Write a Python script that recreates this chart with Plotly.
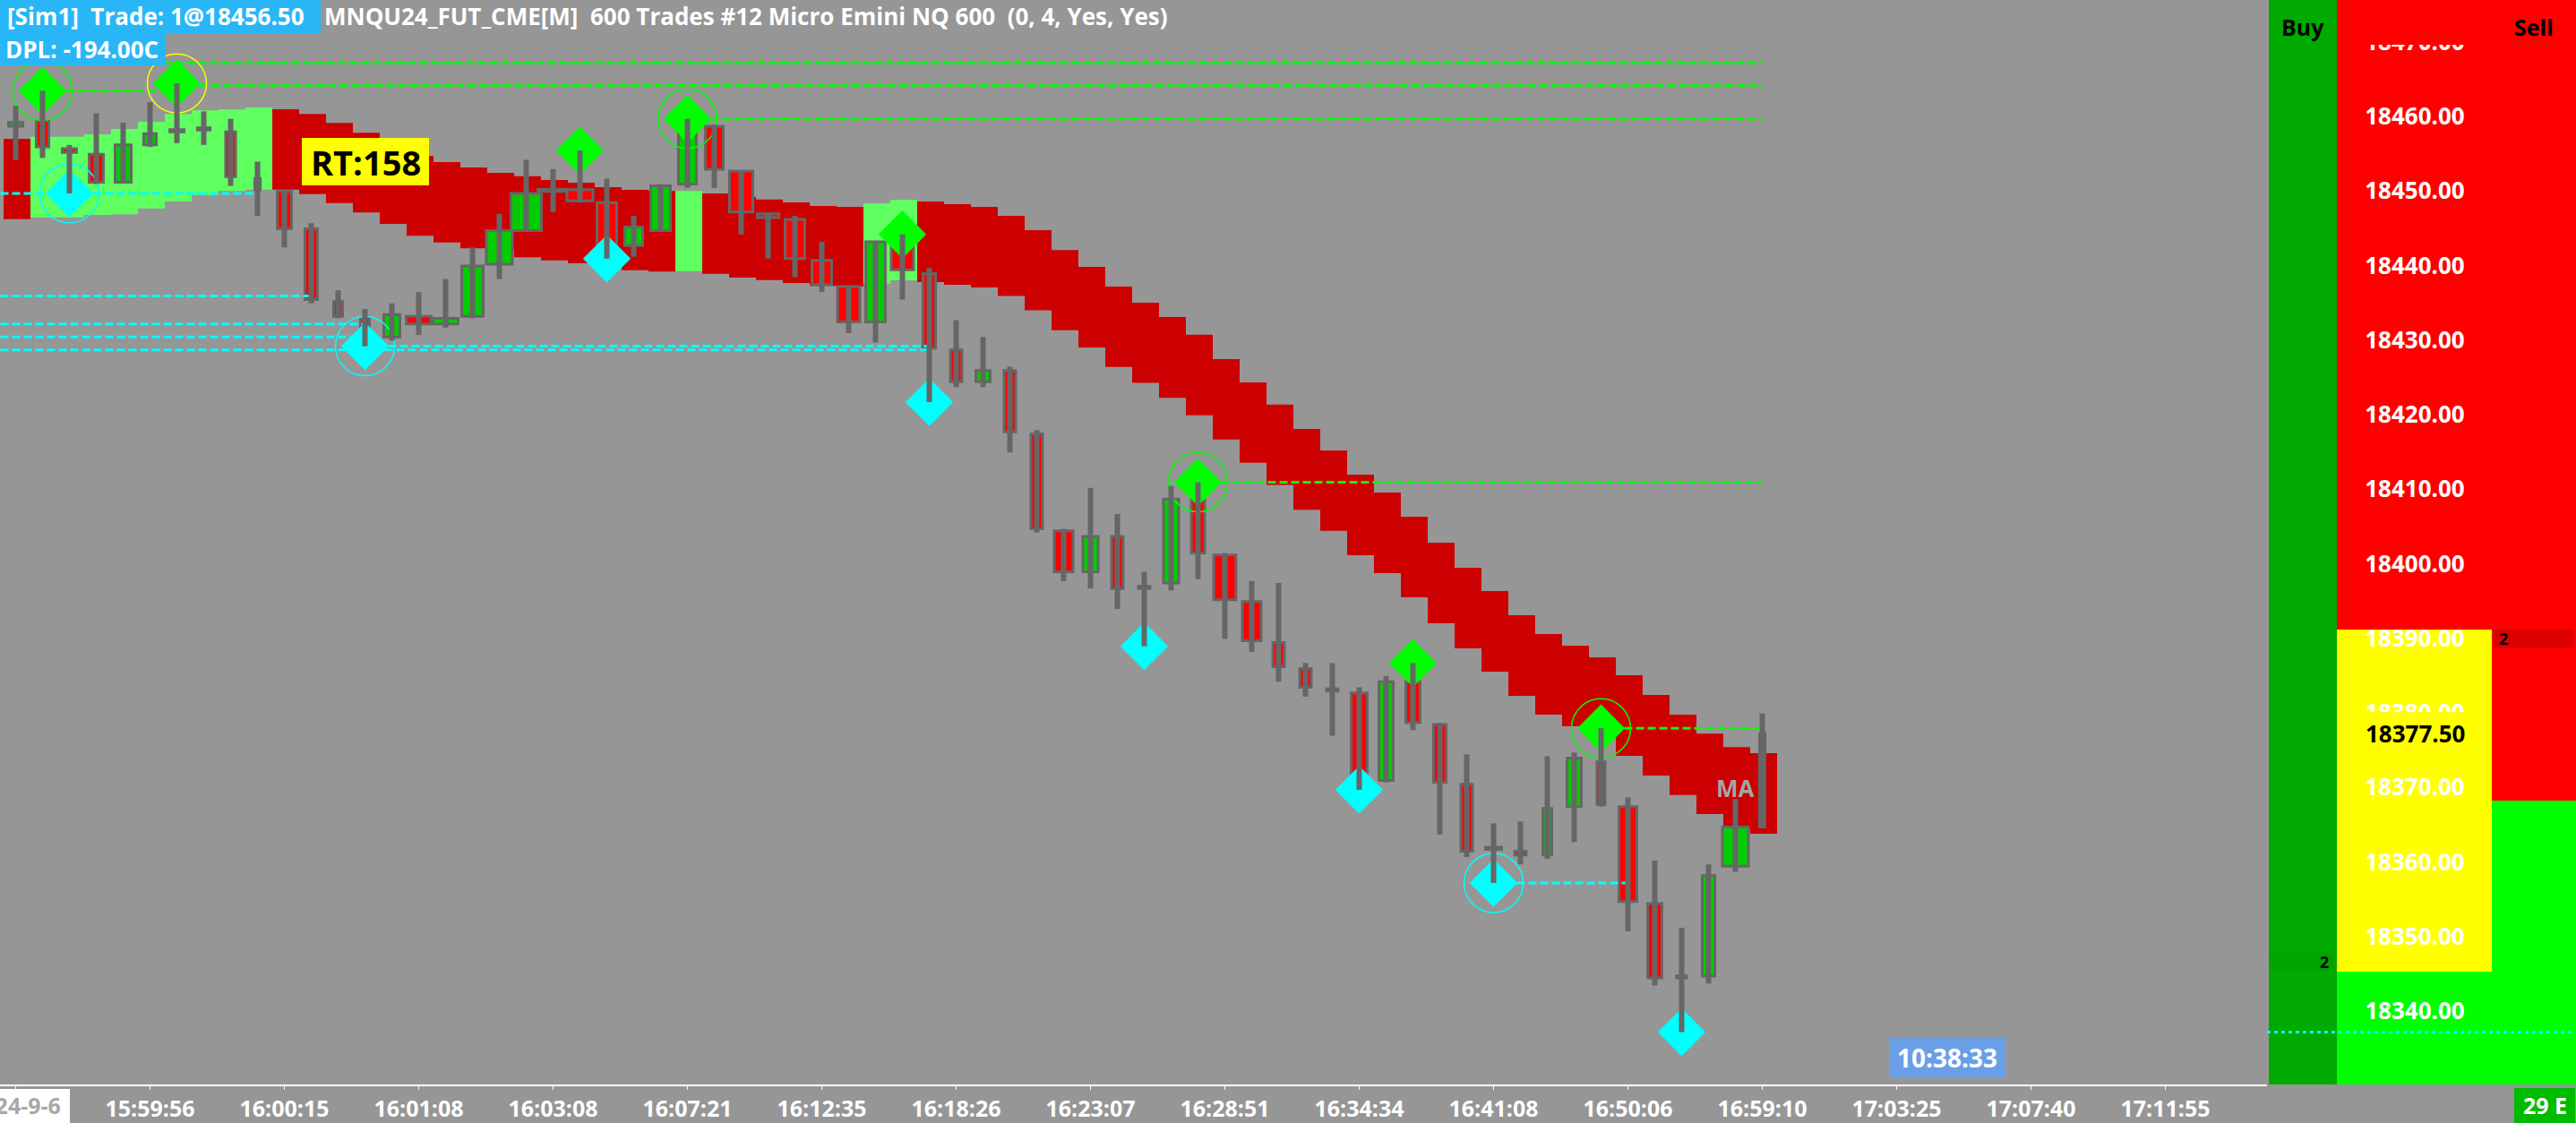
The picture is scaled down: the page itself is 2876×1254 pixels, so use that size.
import plotly.graph_objects as go

# ---------------- data ----------------
bar_index = list(range(66))
opens = [18459.0, 18459.75, 18456.0, 18455.25, 18451.5, 18456.5, 18458.25, 18458.5, 18458.25, 18452.0,
         18450.25, 18445.25, 18435.5, 18433.25, 18430.75, 18433.5, 18432.5, 18433.5, 18440.5, 18445.0,
         18450.25, 18450.5, 18448.75, 18443.0, 18445.0, 18451.25, 18459.0, 18453.0, 18447.25, 18446.5,
         18441.0, 18437.5, 18432.75, 18443.5, 18439.25, 18429.0, 18424.75, 18426.25, 18417.75, 18404.75,
         18399.25, 18404.0, 18397.0, 18397.75, 18409.0, 18401.5, 18395.25, 18389.75, 18386.25, 18383.25,
         18383.0, 18371.25, 18384.5, 18378.75, 18370.75, 18362.0, 18361.75, 18361.25, 18367.75, 18373.75,
         18367.75, 18354.75, 18344.75, 18345.0, 18359.75, 18365.0]
highs = [18461.75, 18463.75, 18456.5, 18460.75, 18459.5, 18462.25, 18464.75, 18461.0, 18460.0, 18454.25,
         18450.25, 18446.0, 18437.0, 18434.5, 18435.25, 18436.75, 18438.5, 18442.75, 18447.25, 18454.5,
         18453.25, 18455.75, 18452.0, 18447.0, 18451.25, 18460.0, 18459.25, 18453.0, 18447.25, 18447.0,
         18443.5, 18437.5, 18443.5, 18444.5, 18440.0, 18433.0, 18430.75, 18426.75, 18418.25, 18405.0,
         18410.5, 18407.0, 18399.25, 18410.75, 18411.25, 18401.75, 18398.0, 18397.75, 18387.0, 18387.0,
         18383.75, 18385.25, 18387.0, 18379.0, 18374.75, 18365.5, 18365.75, 18374.5, 18375.0, 18378.25,
         18369.0, 18360.5, 18351.5, 18360.0, 18368.75, 18380.25]
lows = [18454.5, 18454.75, 18450.0, 18451.25, 18451.5, 18456.25, 18456.75, 18456.5, 18451.0, 18447.0,
        18442.75, 18435.25, 18433.25, 18429.5, 18430.25, 18431.0, 18432.0, 18433.25, 18438.5, 18445.0,
        18447.5, 18448.75, 18441.25, 18441.5, 18445.0, 18450.75, 18450.75, 18444.5, 18441.25, 18438.75,
        18436.75, 18431.25, 18430.0, 18435.75, 18422.0, 18424.0, 18424.0, 18415.25, 18404.5, 18398.0,
        18397.0, 18394.25, 18389.25, 18396.75, 18398.25, 18390.25, 18388.5, 18384.5, 18382.5, 18377.25,
        18370.0, 18371.0, 18378.0, 18364.0, 18361.0, 18357.5, 18360.0, 18360.75, 18363.0, 18367.75,
        18351.0, 18343.75, 18337.5, 18344.0, 18359.0, 18365.0]
closes = [18459.5, 18456.25, 18455.5, 18451.5, 18456.5, 18458.0, 18458.5, 18458.5, 18452.25, 18450.5,
          18445.25, 18435.75, 18433.5, 18430.75, 18433.75, 18432.5, 18433.25, 18440.25, 18445.0, 18450.0,
          18450.5, 18449.0, 18443.0, 18445.5, 18451.0, 18459.0, 18453.25, 18447.5, 18446.75, 18441.25,
          18437.75, 18432.75, 18443.5, 18439.75, 18429.25, 18424.75, 18426.25, 18418.0, 18405.0, 18399.25,
          18404.0, 18397.0, 18397.25, 18409.0, 18401.75, 18395.5, 18390.0, 18386.5, 18383.75, 18383.25,
          18371.25, 18384.5, 18379.0, 18371.0, 18361.75, 18362.0, 18361.25, 18367.5, 18374.25, 18368.0,
          18355.0, 18344.75, 18344.75, 18358.5, 18365.0, 18377.5]
# relative body width of each candle (fraction of one bar slot)
body_frac = [.63, .57, .63, .63, .70, .57, .63, .57, .47, .30,
             .63, .57, .43, .43, .70, 1.03, 1.03, .90, 1.07, 1.23,
             1.23, 1.07, .83, .77, .83, .77, .77, .97, .90, .83,
             .83, .93, .83, .93, .57, .53, .63, .53, .53, .80,
             .67, .53, .53, .67, .60, .93, .80, .53, .53, .53,
             .70, .63, .63, .57, .53, .70, .53, .43, .63, .40,
             .77, .63, .47, .57, 1.07, .30]
ribbon_top = [18457.32, 18457.60, 18457.60, 18457.92, 18458.64, 18459.60, 18460.65, 18461.13, 18461.25, 18461.53,
              18461.29, 18460.65, 18459.45, 18458.13, 18456.60, 18455.04, 18454.20, 18453.48, 18452.76, 18452.31,
              18451.80, 18451.44, 18450.84, 18450.47, 18450.32, 18450.32, 18449.99, 18449.51, 18449.19, 18448.79,
              18448.31, 18448.19, 18448.67, 18449.12, 18448.90, 18448.54, 18448.19, 18446.99, 18445.07, 18442.40,
              18440.14, 18437.51, 18435.34, 18433.43, 18431.03, 18427.78, 18424.64, 18421.66, 18418.40, 18415.52,
              18412.28, 18409.87, 18406.63, 18403.15, 18399.78, 18396.66, 18393.42, 18390.89, 18389.33, 18387.77,
              18385.37, 18382.73, 18380.08, 18377.52, 18375.72, 18374.92]
ribbon_bot = [18446.55, 18446.79, 18446.79, 18447.11, 18447.20, 18447.99, 18448.91, 18449.79, 18450.32, 18450.51,
              18450.51, 18449.91, 18448.71, 18447.44, 18445.91, 18444.31, 18443.42, 18442.63, 18442.47, 18441.43,
              18441.02, 18440.62, 18440.26, 18439.70, 18439.51, 18439.58, 18439.22, 18438.70, 18438.38, 18437.98,
              18437.59, 18437.50, 18437.90, 18438.34, 18438.10, 18437.74, 18437.38, 18436.23, 18434.32, 18431.65,
              18429.33, 18426.71, 18424.59, 18422.58, 18420.23, 18416.99, 18413.87, 18410.89, 18407.57, 18404.74,
              18401.47, 18399.06, 18395.82, 18392.33, 18388.97, 18385.85, 18382.61, 18380.08, 18378.52, 18376.96,
              18374.56, 18371.92, 18369.31, 18366.75, 18364.71, 18364.11]
ribbon_bull = [0, 1, 1, 1, 1, 1, 1, 1, 1, 1,
               0, 0, 0, 0, 0, 0, 0, 0, 0, 0,
               0, 0, 0, 0, 0, 1, 0, 0, 0, 0,
               0, 0, 1, 1, 0, 0, 0, 0, 0, 0,
               0, 0, 0, 0, 0, 0, 0, 0, 0, 0,
               0, 0, 0, 0, 0, 0, 0, 0, 0, 0,
               0, 0, 0, 0, 0, 0]
sell_signal_bars = [1, 6, 21, 25, 33, 44, 52, 59]
buy_signal_bars = [2, 13, 22, 34, 42, 50, 55, 62]
sell_circle_bars = [1, 25, 44, 59]
entry_circle_bars = [6]
buy_circle_bars = [2, 13, 55]
green_level_price = [18467.5, 18464.5, 18463.75, 18460.0, 18411.25, 18378.25]
green_level_from = [-1, 6, 1, 25, 44, 59]
green_level_to = [65, 65, 6, 65, 65, 65]
cyan_level_price = [18450.0, 18436.25, 18432.5, 18430.75, 18429.0, 18429.5, 18357.5]
cyan_level_from = [-1, -1, -1, -1, -1, 13, 55]
cyan_level_to = [9, 11, 13, 13, 34, 34, 60]
tick_bars = list(range(0, 81, 5))
tick_labels = ["2024-9-6", "15:59:56", "16:00:15", "16:01:08", "16:03:08", "16:07:21", "16:12:35",
               "16:18:26", "16:23:07", "16:28:51", "16:34:34", "16:41:08", "16:50:06", "16:59:10",
               "17:03:25", "17:07:40", "17:11:55"]
ladder_prices = [18470, 18460, 18450, 18440, 18430, 18420, 18410, 18400, 18390, 18380, 18370, 18360, 18350, 18340]
ladder_ask_floor = 18391.5      # red above
ladder_bid_ceiling = 18345.6    # lime below
ladder_sell_split = 18368.55
sell_order_price, sell_order_qty = 18390.3, 2
buy_order_price, buy_order_qty = 18346.9, 2
last_price = 18377.50
stop_level = 18337.5
y_range = [18330.47, 18475.94]
x_range = [-0.583, 83.783]

# ---------------- styling ----------------
W, H = 2876, 1254
PLOT_H = 1211
SPLIT = 2531
BG = "#969696"
FONT = "Open Sans"
RED_RIB, GRN_RIB = "#CC0000", "#5FFF5F"
UP, DN, DOJI, WICK = "#00CC00", "#FF0000", "#666666", "#666666"


def PX(px):
    return px / W


def PY(py):
    return 1 - py / PLOT_H


fig = go.Figure()


def level_trace(prices, froms, tos, color):
    xs, ys = [], []
    for p, a, b in zip(prices, froms, tos):
        xs += [a, b, None]
        ys += [p, p, None]
    return go.Scatter(x=xs, y=ys, mode="lines", hoverinfo="skip",
                      line=dict(color=color, width=3, dash="9px,4px"))


fig.add_trace(level_trace(green_level_price, green_level_from, green_level_to, "#00FF00"))
fig.add_trace(level_trace(cyan_level_price, cyan_level_from, cyan_level_to, "#00FFFF"))

# circles around signals
fig.add_trace(go.Scatter(x=sell_circle_bars, y=[highs[i] for i in sell_circle_bars], mode="markers",
                         hoverinfo="skip",
                         marker=dict(symbol="circle-open", size=66, color="#00FF00", line=dict(width=1.5))))
fig.add_trace(go.Scatter(x=entry_circle_bars, y=[highs[i] for i in entry_circle_bars], mode="markers",
                         hoverinfo="skip",
                         marker=dict(symbol="circle-open", size=66, color="#FFFF00", line=dict(width=1.5))))
fig.add_trace(go.Scatter(x=buy_circle_bars, y=[lows[i] for i in buy_circle_bars], mode="markers",
                         hoverinfo="skip",
                         marker=dict(symbol="circle-open", size=66, color="#00FFFF", line=dict(width=1.5))))

# ribbon
fig.add_trace(go.Bar(x=bar_index, base=ribbon_bot, y=[t - b for t, b in zip(ribbon_top, ribbon_bot)],
                     width=1.0, offset=-0.45, hoverinfo="skip",
                     marker=dict(color=[GRN_RIB if g else RED_RIB for g in ribbon_bull], line=dict(width=0))))

# diamonds
fig.add_trace(go.Scatter(x=sell_signal_bars, y=[highs[i] for i in sell_signal_bars], mode="markers",
                         hoverinfo="skip", marker=dict(symbol="diamond", size=41, color="#00FF00",
                                                       line=dict(width=0))))
fig.add_trace(go.Scatter(x=buy_signal_bars, y=[lows[i] for i in buy_signal_bars], mode="markers",
                         hoverinfo="skip", marker=dict(symbol="diamond", size=41, color="#00FFFF",
                                                       line=dict(width=0))))

# wicks
wx, wy = [], []
for i, h, l in zip(bar_index, highs, lows):
    wx += [i, i, None]
    wy += [l, h, None]
fig.add_trace(go.Scatter(x=wx, y=wy, mode="lines", hoverinfo="skip", line=dict(color=WICK, width=6)))

# bodies
b_base = [min(o, c) for o, c in zip(opens, closes)]
b_h = [max(abs(c - o), 0.3) for o, c in zip(opens, closes)]
b_col = [UP if c > o else (DN if c < o else DOJI) for o, c in zip(opens, closes)]
b_w = [max(f - 0.1, 0.05) for f in body_frac]
fig.add_trace(go.Bar(x=bar_index, base=b_base, y=b_h, width=b_w, hoverinfo="skip",
                     marker=dict(color=b_col, line=dict(color=WICK, width=3))))

# ladder price labels (drawn as text trace on ladder axis)
fig.add_trace(go.Scatter(x=[165] * len(ladder_prices), y=ladder_prices, xaxis="x2", yaxis="y",
                         mode="text", text=[f"{p:.2f}" for p in ladder_prices], hoverinfo="skip",
                         textfont=dict(family=FONT, size=26, color="white", weight="bold")))

shapes = []
# ladder backgrounds
shapes.append(dict(type="rect", xref="x2", yref="paper", x0=2, x1=78, y0=0, y1=1,
                   fillcolor="#00AA00", line=dict(width=0), layer="below"))
shapes.append(dict(type="rect", xref="x2", yref="y", x0=78, x1=251, y0=ladder_ask_floor, y1=18600,
                   fillcolor="#FF0000", line=dict(width=0), layer="below"))
shapes.append(dict(type="rect", xref="x2", yref="y", x0=78, x1=251, y0=ladder_bid_ceiling, y1=ladder_ask_floor,
                   fillcolor="#FFFF00", line=dict(width=0), layer="below"))
shapes.append(dict(type="rect", xref="x2", yref="y", x0=78, x1=251, y0=18200, y1=ladder_bid_ceiling,
                   fillcolor="#00FF00", line=dict(width=0), layer="below"))
shapes.append(dict(type="rect", xref="x2", yref="y", x0=251, x1=345, y0=ladder_sell_split, y1=18600,
                   fillcolor="#FF0000", line=dict(width=0), layer="below"))
shapes.append(dict(type="rect", xref="x2", yref="y", x0=251, x1=345, y0=18200, y1=ladder_sell_split,
                   fillcolor="#00FF00", line=dict(width=0), layer="below"))
shapes.append(dict(type="line", xref="x2", yref="paper", x0=251, x1=251, y0=0, y1=1,
                   line=dict(color="#D00000", width=1), layer="below"))
shapes.append(dict(type="line", xref="x2", yref="paper", x0=343, x1=343, y0=0, y1=PY(875),
                   line=dict(color="#D00000", width=1), layer="below"))
shapes.append(dict(type="rect", xref="x2", yref="y", x0=252, x1=342, y0=sell_order_price - 1.2,
                   y1=sell_order_price + 1.2, fillcolor="#DD0000", line=dict(width=0), layer="below"))
shapes.append(dict(type="rect", xref="x2", yref="y", x0=3, x1=76, y0=buy_order_price - 1.2,
                   y1=buy_order_price + 1.2, fillcolor="#00A300", line=dict(width=0), layer="below"))
shapes.append(dict(type="line", xref="x2", yref="y", x0=0, x1=342, y0=stop_level, y1=stop_level,
                   line=dict(color="#00FFFF", width=3, dash="4px,4px"), layer="above"))
# covers over the ladder (current price box, header strip)
shapes.append(dict(type="rect", xref="x2", yref="y", x0=78, x1=251, y0=last_price - 2.95, y1=last_price + 2.9,
                   fillcolor="#FFFF00", line=dict(width=0), layer="above"))
shapes.append(dict(type="rect", xref="x2", yref="paper", x0=78, x1=251, y0=PY(50), y1=1,
                   fillcolor="#FF0000", line=dict(width=0), layer="above"))
# header / label boxes
shapes.append(dict(type="rect", xref="paper", yref="paper", x0=0, x1=PX(358), y0=PY(37), y1=1,
                   fillcolor="#29B6F6", line=dict(width=0), layer="above"))
shapes.append(dict(type="rect", xref="paper", yref="paper", x0=0, x1=PX(185), y0=PY(73), y1=PY(37),
                   fillcolor="#29B6F6", line=dict(width=0), layer="above"))
shapes.append(dict(type="rect", xref="paper", yref="paper", x0=PX(337), x1=PX(479), y0=PY(207), y1=PY(154),
                   fillcolor="#FFFF00", line=dict(width=0), layer="above"))
shapes.append(dict(type="rect", xref="paper", yref="paper", x0=PX(2110), x1=PX(2239), y0=PY(1203), y1=PY(1158),
                   fillcolor="#6A9FE6", line=dict(width=0), layer="above"))
shapes.append(dict(type="rect", xref="paper", yref="paper", x0=0, x1=PX(78), y0=PY(1254), y1=PY(1216),
                   fillcolor="white", line=dict(width=0), layer="above"))
shapes.append(dict(type="rect", xref="paper", yref="paper", x0=PX(2807), x1=PX(2875), y0=PY(1254), y1=PY(1215),
                   fillcolor="#00BB00", line=dict(width=0), layer="above"))


def ann(text, x, y, size, color="white", xanchor="center", xref="paper", yref="paper"):
    return dict(text=text, x=x, y=y, xref=xref, yref=yref, xanchor=xanchor, yanchor="middle",
                showarrow=False, font=dict(family=FONT, size=size, color=color, weight="bold"))


annotations = [
    ann("[Sim1]  Trade: 1@18456.50", PX(6), PY(18), 26, xanchor="left"),
    ann("MNQU24_FUT_CME[M]  600 Trades #12 Micro Emini NQ 600  (0, 4, Yes, Yes)", PX(360), PY(18), 26,
        xanchor="left"),
    ann("DPL: -194.00C", PX(4), PY(55), 26, xanchor="left"),
    ann("RT:158", PX(408), PY(181), 38, color="black"),
    ann("MA", 64, (ribbon_top[64] + ribbon_bot[64]) / 2, 26, color="#A6A6A6", xref="x", yref="y"),
    ann("10:38:33", PX(2174), PY(1181), 28),
    ann(tick_labels[0], tick_bars[0], PY(1234), 25, color="#A8A8A8", xref="x"),
    ann("29 E", PX(2841), PY(1234), 25),
    ann("Buy", 40, PY(30), 25, color="black", xref="x2"),
    ann("Sell", 298, PY(30), 25, color="black", xref="x2"),
    ann(f"{last_price:.2f}", 165, last_price, 26, color="black", xref="x2", yref="y"),
    ann(str(sell_order_qty), 264, sell_order_price, 18, color="black", xref="x2", yref="y"),
    ann(str(buy_order_qty), 64, buy_order_price, 18, color="black", xref="x2", yref="y"),
]

fig.update_layout(
    width=W, height=H, margin=dict(l=0, r=0, t=0, b=H - PLOT_H, pad=0),
    paper_bgcolor=BG, plot_bgcolor=BG, barmode="overlay", showlegend=False,
    shapes=shapes, annotations=annotations,
    xaxis=dict(domain=[0, SPLIT / W], range=x_range, tickmode="array", tickvals=tick_bars,
               ticktext=[""] + tick_labels[1:], ticks="outside", ticklen=4, tickcolor="white", tickwidth=1,
               showline=True, linecolor="white", linewidth=2, showgrid=False, zeroline=False,
               tickfont=dict(family=FONT, size=25, color="white", weight="bold"), fixedrange=True,
               automargin=False),
    xaxis2=dict(domain=[SPLIT / W, 1], range=[0, 345], visible=False, anchor="y", fixedrange=True),
    yaxis=dict(domain=[0, 1], range=y_range, visible=False, fixedrange=True, showgrid=False, zeroline=False),
)

fig.write_html("out.html", config={"displayModeBar": False},
               post_script="document.body.style.margin='0px';document.body.style.overflow='hidden';"
                           "document.documentElement.style.background='" + BG + "';")
